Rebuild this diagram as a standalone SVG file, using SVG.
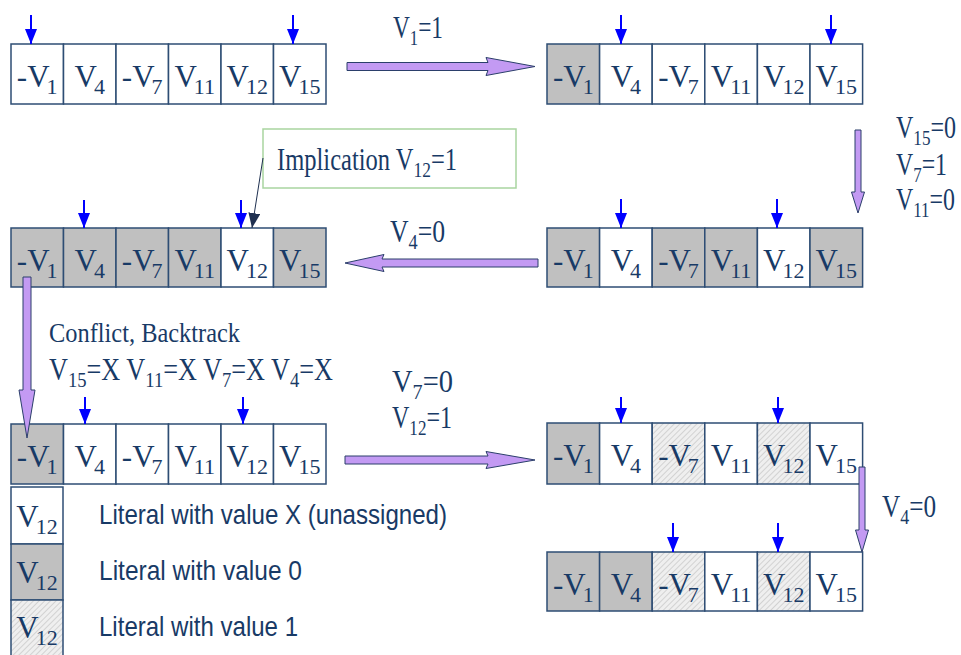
<svg xmlns="http://www.w3.org/2000/svg" width="961" height="655" viewBox="0 0 961 655">
  <defs>
    <style>
      .cell { fill: #ffffff; stroke: #2e4d74; stroke-width: 1.5; }
      .zero { fill: #c0c0c0; }
      .one { fill: url(#hatch); }
      .lbl { font-family: "Liberation Serif", "Times New Roman", serif; font-size: 31px; fill: #183a66; }
      .sub { font-size: 22px; }
      .note { font-family: "Liberation Serif", "Times New Roman", serif; font-size: 31px; fill: #183a66; }
      .small { font-size: 27px; }
      .legend { font-family: "Liberation Sans", Arial, sans-serif; font-size: 28px; fill: #183a66; }
      .ptr { stroke: #0000ff; stroke-width: 2; fill: none; marker-end: url(#bluehead); }
      .flow { fill: #c39af3; stroke: #2b3f6b; stroke-width: 1; stroke-linejoin: round; }
      .callout { fill: #ffffff; stroke: #a9d5a0; stroke-width: 1.5; }
      .lead { stroke: #1f3050; stroke-width: 1; fill: none; marker-end: url(#navyhead); }
    </style>
    <pattern id="hatch" patternUnits="userSpaceOnUse" width="4" height="4" patternTransform="rotate(45)">
      <rect width="4" height="4" fill="#efefef"/>
      <line x1="0" y1="0" x2="0" y2="4" stroke="#c6c6c6" stroke-width="1.4"/>
    </pattern>
    <marker id="bluehead" markerUnits="userSpaceOnUse" markerWidth="15" markerHeight="12" refX="15" refY="6" orient="auto">
      <path d="M0,0 L15,6 L0,12 z" fill="#0000ff"/>
    </marker>
    <marker id="navyhead" markerUnits="userSpaceOnUse" markerWidth="15" markerHeight="12" refX="15" refY="6" orient="auto">
      <path d="M0,0 L15,6 L0,12 z" fill="#1f3050"/>
    </marker>
  </defs>

  <rect width="961" height="655" fill="#ffffff"/>

  <!-- Row 1 left: initial state -->
  <g id="state-1">
    <rect class="cell" x="11" y="44" width="52.5" height="60"/>
    <rect class="cell" x="63.5" y="44" width="52.5" height="60"/>
    <rect class="cell" x="116" y="44" width="52.5" height="60"/>
    <rect class="cell" x="168.5" y="44" width="52.5" height="60"/>
    <rect class="cell" x="221" y="44" width="52.5" height="60"/>
    <rect class="cell" x="273.5" y="44" width="52.5" height="60"/>
    <text class="lbl" x="37.2" y="87" text-anchor="middle">-V<tspan class="sub" dx="-3" dy="7">1</tspan></text>
    <text class="lbl" x="89.7" y="87" text-anchor="middle">V<tspan class="sub" dx="-3" dy="7">4</tspan></text>
    <text class="lbl" x="142.2" y="87" text-anchor="middle">-V<tspan class="sub" dx="-3" dy="7">7</tspan></text>
    <text class="lbl" x="194.7" y="87" text-anchor="middle">V<tspan class="sub" dx="-3" dy="7">11</tspan></text>
    <text class="lbl" x="247.2" y="87" text-anchor="middle">V<tspan class="sub" dx="-3" dy="7">12</tspan></text>
    <text class="lbl" x="299.7" y="87" text-anchor="middle">V<tspan class="sub" dx="-3" dy="7">15</tspan></text>
  </g>

  <!-- Row 1 right: after V1=1 -->
  <g id="state-2">
    <rect class="cell zero" x="547" y="44" width="52.6" height="60"/>
    <rect class="cell" x="599.6" y="44" width="52.6" height="60"/>
    <rect class="cell" x="652.2" y="44" width="52.6" height="60"/>
    <rect class="cell" x="704.8" y="44" width="52.6" height="60"/>
    <rect class="cell" x="757.4" y="44" width="52.6" height="60"/>
    <rect class="cell" x="810" y="44" width="52.6" height="60"/>
    <text class="lbl" x="573.3" y="87" text-anchor="middle">-V<tspan class="sub" dx="-3" dy="7">1</tspan></text>
    <text class="lbl" x="625.9" y="87" text-anchor="middle">V<tspan class="sub" dx="-3" dy="7">4</tspan></text>
    <text class="lbl" x="678.5" y="87" text-anchor="middle">-V<tspan class="sub" dx="-3" dy="7">7</tspan></text>
    <text class="lbl" x="731.1" y="87" text-anchor="middle">V<tspan class="sub" dx="-3" dy="7">11</tspan></text>
    <text class="lbl" x="783.7" y="87" text-anchor="middle">V<tspan class="sub" dx="-3" dy="7">12</tspan></text>
    <text class="lbl" x="836.3" y="87" text-anchor="middle">V<tspan class="sub" dx="-3" dy="7">15</tspan></text>
  </g>

  <!-- Row 2 right: after V15=0, V7=1, V11=0 -->
  <g id="state-3">
    <rect class="cell zero" x="547" y="228" width="52.6" height="59"/>
    <rect class="cell" x="599.6" y="228" width="52.6" height="59"/>
    <rect class="cell zero" x="652.2" y="228" width="52.6" height="59"/>
    <rect class="cell zero" x="704.8" y="228" width="52.6" height="59"/>
    <rect class="cell" x="757.4" y="228" width="52.6" height="59"/>
    <rect class="cell zero" x="810" y="228" width="52.6" height="59"/>
    <text class="lbl" x="573.3" y="271" text-anchor="middle">-V<tspan class="sub" dx="-3" dy="7">1</tspan></text>
    <text class="lbl" x="625.9" y="271" text-anchor="middle">V<tspan class="sub" dx="-3" dy="7">4</tspan></text>
    <text class="lbl" x="678.5" y="271" text-anchor="middle">-V<tspan class="sub" dx="-3" dy="7">7</tspan></text>
    <text class="lbl" x="731.1" y="271" text-anchor="middle">V<tspan class="sub" dx="-3" dy="7">11</tspan></text>
    <text class="lbl" x="783.7" y="271" text-anchor="middle">V<tspan class="sub" dx="-3" dy="7">12</tspan></text>
    <text class="lbl" x="836.3" y="271" text-anchor="middle">V<tspan class="sub" dx="-3" dy="7">15</tspan></text>
  </g>

  <!-- Row 2 left: after V4=0 -->
  <g id="state-4">
    <rect class="cell zero" x="11" y="228" width="52.5" height="59"/>
    <rect class="cell zero" x="63.5" y="228" width="52.5" height="59"/>
    <rect class="cell zero" x="116" y="228" width="52.5" height="59"/>
    <rect class="cell zero" x="168.5" y="228" width="52.5" height="59"/>
    <rect class="cell" x="221" y="228" width="52.5" height="59"/>
    <rect class="cell zero" x="273.5" y="228" width="52.5" height="59"/>
    <text class="lbl" x="37.2" y="271" text-anchor="middle">-V<tspan class="sub" dx="-3" dy="7">1</tspan></text>
    <text class="lbl" x="89.7" y="271" text-anchor="middle">V<tspan class="sub" dx="-3" dy="7">4</tspan></text>
    <text class="lbl" x="142.2" y="271" text-anchor="middle">-V<tspan class="sub" dx="-3" dy="7">7</tspan></text>
    <text class="lbl" x="194.7" y="271" text-anchor="middle">V<tspan class="sub" dx="-3" dy="7">11</tspan></text>
    <text class="lbl" x="247.2" y="271" text-anchor="middle">V<tspan class="sub" dx="-3" dy="7">12</tspan></text>
    <text class="lbl" x="299.7" y="271" text-anchor="middle">V<tspan class="sub" dx="-3" dy="7">15</tspan></text>
  </g>

  <!-- Row 3 left: after backtrack -->
  <g id="state-5">
    <rect class="cell zero" x="11" y="424" width="52.5" height="60"/>
    <rect class="cell" x="63.5" y="424" width="52.5" height="60"/>
    <rect class="cell" x="116" y="424" width="52.5" height="60"/>
    <rect class="cell" x="168.5" y="424" width="52.5" height="60"/>
    <rect class="cell" x="221" y="424" width="52.5" height="60"/>
    <rect class="cell" x="273.5" y="424" width="52.5" height="60"/>
    <text class="lbl" x="37.2" y="467" text-anchor="middle">-V<tspan class="sub" dx="-3" dy="7">1</tspan></text>
    <text class="lbl" x="89.7" y="467" text-anchor="middle">V<tspan class="sub" dx="-3" dy="7">4</tspan></text>
    <text class="lbl" x="142.2" y="467" text-anchor="middle">-V<tspan class="sub" dx="-3" dy="7">7</tspan></text>
    <text class="lbl" x="194.7" y="467" text-anchor="middle">V<tspan class="sub" dx="-3" dy="7">11</tspan></text>
    <text class="lbl" x="247.2" y="467" text-anchor="middle">V<tspan class="sub" dx="-3" dy="7">12</tspan></text>
    <text class="lbl" x="299.7" y="467" text-anchor="middle">V<tspan class="sub" dx="-3" dy="7">15</tspan></text>
  </g>

  <!-- Row 3 right: after V7=0, V12=1 -->
  <g id="state-6">
    <rect class="cell zero" x="547" y="423" width="52.6" height="61"/>
    <rect class="cell" x="599.6" y="423" width="52.6" height="61"/>
    <rect class="cell one" x="652.2" y="423" width="52.6" height="61"/>
    <rect class="cell" x="704.8" y="423" width="52.6" height="61"/>
    <rect class="cell one" x="757.4" y="423" width="52.6" height="61"/>
    <rect class="cell" x="810" y="423" width="52.6" height="61"/>
    <text class="lbl" x="573.3" y="466" text-anchor="middle">-V<tspan class="sub" dx="-3" dy="7">1</tspan></text>
    <text class="lbl" x="625.9" y="466" text-anchor="middle">V<tspan class="sub" dx="-3" dy="7">4</tspan></text>
    <text class="lbl" x="678.5" y="466" text-anchor="middle">-V<tspan class="sub" dx="-3" dy="7">7</tspan></text>
    <text class="lbl" x="731.1" y="466" text-anchor="middle">V<tspan class="sub" dx="-3" dy="7">11</tspan></text>
    <text class="lbl" x="783.7" y="466" text-anchor="middle">V<tspan class="sub" dx="-3" dy="7">12</tspan></text>
    <text class="lbl" x="836.3" y="466" text-anchor="middle">V<tspan class="sub" dx="-3" dy="7">15</tspan></text>
  </g>

  <!-- Row 4 right: after V4=0 -->
  <g id="state-7">
    <rect class="cell zero" x="547" y="552" width="52.6" height="59"/>
    <rect class="cell zero" x="599.6" y="552" width="52.6" height="59"/>
    <rect class="cell one" x="652.2" y="552" width="52.6" height="59"/>
    <rect class="cell" x="704.8" y="552" width="52.6" height="59"/>
    <rect class="cell one" x="757.4" y="552" width="52.6" height="59"/>
    <rect class="cell" x="810" y="552" width="52.6" height="59"/>
    <text class="lbl" x="573.3" y="595" text-anchor="middle">-V<tspan class="sub" dx="-3" dy="7">1</tspan></text>
    <text class="lbl" x="625.9" y="595" text-anchor="middle">V<tspan class="sub" dx="-3" dy="7">4</tspan></text>
    <text class="lbl" x="678.5" y="595" text-anchor="middle">-V<tspan class="sub" dx="-3" dy="7">7</tspan></text>
    <text class="lbl" x="731.1" y="595" text-anchor="middle">V<tspan class="sub" dx="-3" dy="7">11</tspan></text>
    <text class="lbl" x="783.7" y="595" text-anchor="middle">V<tspan class="sub" dx="-3" dy="7">12</tspan></text>
    <text class="lbl" x="836.3" y="595" text-anchor="middle">V<tspan class="sub" dx="-3" dy="7">15</tspan></text>
  </g>

  <!-- Implication callout -->
  <g id="implication-note">
    <rect class="callout" x="263" y="129" width="253" height="59"/>
    <text class="note" x="277" y="170" textLength="180" lengthAdjust="spacingAndGlyphs">Implication V<tspan class="sub" dy="7">12</tspan><tspan dy="-7">=1</tspan></text>
  </g>

  <!-- Step labels -->
  <g id="step-labels">
    <text class="note" x="393" y="38" textLength="50" lengthAdjust="spacingAndGlyphs">V<tspan class="sub" dy="7">1</tspan><tspan dy="-7">=1</tspan></text>
    <text class="note" x="896" y="138" textLength="60" lengthAdjust="spacingAndGlyphs">V<tspan class="sub" dy="7">15</tspan><tspan dy="-7">=0</tspan></text>
    <text class="note" x="896" y="175" textLength="51" lengthAdjust="spacingAndGlyphs">V<tspan class="sub" dy="7">7</tspan><tspan dy="-7">=1</tspan></text>
    <text class="note" x="896" y="210" textLength="59" lengthAdjust="spacingAndGlyphs">V<tspan class="sub" dy="7">11</tspan><tspan dy="-7">=0</tspan></text>
    <text class="note" x="390" y="242" textLength="55" lengthAdjust="spacingAndGlyphs">V<tspan class="sub" dy="7">4</tspan><tspan dy="-7">=0</tspan></text>
    <text class="note small" x="49" y="342" textLength="191" lengthAdjust="spacingAndGlyphs">Conflict, Backtrack</text>
    <text class="note" x="49" y="380" textLength="284" lengthAdjust="spacingAndGlyphs">V<tspan class="sub" dy="7">15</tspan><tspan dy="-7">=X V</tspan><tspan class="sub" dy="7">11</tspan><tspan dy="-7">=X V</tspan><tspan class="sub" dy="7">7</tspan><tspan dy="-7">=X V</tspan><tspan class="sub" dy="7">4</tspan><tspan dy="-7">=X</tspan></text>
    <text class="note" x="392" y="392" textLength="61" lengthAdjust="spacingAndGlyphs">V<tspan class="sub" dy="7">7</tspan><tspan dy="-7">=0</tspan></text>
    <text class="note" x="392" y="428" textLength="60" lengthAdjust="spacingAndGlyphs">V<tspan class="sub" dy="7">12</tspan><tspan dy="-7">=1</tspan></text>
    <text class="note" x="882" y="517" textLength="54" lengthAdjust="spacingAndGlyphs">V<tspan class="sub" dy="7">4</tspan><tspan dy="-7">=0</tspan></text>
  </g>

  <!-- Legend -->
  <g id="legend-unassigned">
    <rect class="cell" x="11" y="487" width="52" height="57"/>
    <text class="lbl" x="37" y="527" text-anchor="middle">V<tspan class="sub" dx="-3" dy="7">12</tspan></text>
    <text class="legend" x="99" y="524" textLength="348" lengthAdjust="spacingAndGlyphs">Literal with value X (unassigned)</text>
  </g>
  <g id="legend-zero">
    <rect class="cell zero" x="11" y="544" width="52" height="56"/>
    <text class="lbl" x="37" y="583" text-anchor="middle">V<tspan class="sub" dx="-3" dy="7">12</tspan></text>
    <text class="legend" x="99" y="580" textLength="203" lengthAdjust="spacingAndGlyphs">Literal with value 0</text>
  </g>
  <g id="legend-one">
    <rect class="cell one" x="11" y="600" width="52" height="57"/>
    <text class="lbl" x="37" y="638" text-anchor="middle">V<tspan class="sub" dx="-3" dy="7">12</tspan></text>
    <text class="legend" x="99" y="636" textLength="199" lengthAdjust="spacingAndGlyphs">Literal with value 1</text>
  </g>

  <!-- Connectors: step arrows, watch pointers, callout leader -->
  <g id="connectors">
    <polygon class="flow" points="347,62.5 488,62.5 486,57.5 535,66.5 486,75.5 488,70.5 347,70.5"/>
    <polygon class="flow" points="855,130 861,130 861,192 864.5,192 858,213 851.5,192 855,192"/>
    <polygon class="flow" points="538,259 382,259 384,254.5 345,263 384,271.5 382,267 538,267"/>
    <polygon class="flow" points="23,277 31,277 31,390 35,390 27,438 19,390 23,390"/>
    <polygon class="flow" points="345,456 488,456 486,451.5 535,460 486,468.5 488,464 345,464"/>
    <polygon class="flow" points="859,467 865,467 865,530 868.5,530 862,552 855.5,530 859,530"/>

    <line class="ptr" x1="31" y1="15" x2="31" y2="44"/>
    <line class="ptr" x1="293" y1="15" x2="293" y2="44"/>
    <line class="ptr" x1="621" y1="15" x2="621" y2="44"/>
    <line class="ptr" x1="831" y1="15" x2="831" y2="44"/>
    <line class="ptr" x1="84" y1="200" x2="84" y2="228"/>
    <line class="ptr" x1="241" y1="200" x2="241" y2="228"/>
    <line class="ptr" x1="621" y1="199" x2="621" y2="228"/>
    <line class="ptr" x1="777" y1="199" x2="777" y2="228"/>
    <line class="ptr" x1="85" y1="397" x2="85" y2="424"/>
    <line class="ptr" x1="243" y1="397" x2="243" y2="424"/>
    <line class="ptr" x1="621" y1="397" x2="621" y2="423"/>
    <line class="ptr" x1="778" y1="397" x2="778" y2="423"/>
    <line class="ptr" x1="673" y1="523" x2="673" y2="552"/>
    <line class="ptr" x1="778" y1="523" x2="778" y2="552"/>

    <line class="lead" x1="263" y1="158" x2="252" y2="228"/>
  </g>
</svg>
